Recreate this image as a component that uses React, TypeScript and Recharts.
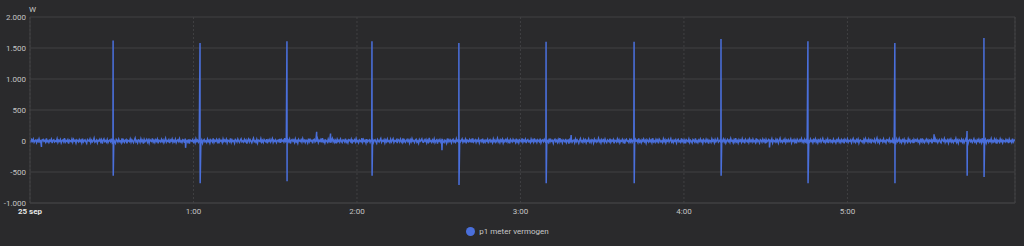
import React from 'react';
import { LineChart, Line, XAxis, YAxis, CartesianGrid, Legend, ReferenceLine } from 'recharts';

// base line noise, one reading every ~18s from 00:00 to 06:01
const noise = [
  8, -14, 22, -3, 30, -20, 5, 16, -26, 12, -8, 34, -12, 4, -30, 18, 26, -6, 10, -18,
  40, -10, 6, -24, 14, -2, 28, -34, 10, 20, -16, 2, -8, 36, -22, 12, -4, 24, -28, 6,
  16, -12, 44, -18, 8, -6, 20, -40, 14, 2, -10, 30, -20, 26, -2, 10, -32, 18, 6, -14,
  24, -8, 12, -28, 38, -16, 4, 18, -10, -36, 22, 8, -4, 32, -24, 14, -12, 6, 46, -20,
  -6, 16, -30, 10, 2, 28, -14, 20, -42, 12, 34, -8, 6, -18, 24, -26, 4, 14, -10, 38,
  -22, 8, 18, -4, -34, 26, 10, -16, 30, -8, 2, -28, 42, -12, 16, -20, 8, 22, -36, 12,
  4, -10, 32, -18, 20, -2, -26, 14, 48, -14, 6, -30, 18, 10, -22, 36, -6, 12, -40, 24,
  -12, 6, 28, -20, 14, -32, 22, 4, -8, 40, -16, 10, -24, 18, -4, 30, -38, 12, 2, -14,
  26, -10, 16, -28, 6, 44, -18, 8, -6, 22, -34, 14, -2, 32, -20, 10, -12, 28, -26, 4,
  18, -8, 36, -14, 2, -24, 20, 12, -30, 38, -10, 6, -18, 26, -42, 16, 8, -4, 22, -16,
  10, -28, 34, -6, 14, -20, 4, 50, -12, 18, -36, 8, 24, -14, 2, -22, 30, -8, 12, -32,
  20, 6, -16, 40, -24, 10, -4, 26, -18, 14, -38, 22, -2, 8, -26, 34, -10, 16, -6, 28,
  -30, 12, 4, -14, 42, -20, 18, -8, 6, -34, 24, 10, -16, 30, -4, -22, 14, 36, -12, 2,
  -18, 26, -6, 16, -40, 8, 32, -14, 20, -2, -28, 12, 46, -10, 4, -20, 24, -32, 14, 6,
  -8, 38, -16, 10, -24, 22, 2, -12, 30, -36, 16, -4, 26, -18, 8, 40, -22, 12, -6, 18,
  -26, 4, 14, -10, 34, -30, 20, -2, 12, -16, 44, -8, 6, -28, 18, -12, 28, -40, 10, 24,
  -4, 16, -22, 32, -14, 8, -34, 26, 2, -10, 20, -18, 38, -6, 12, -24, 14, 6, -30, 36,
  -12, 22, -2, 10, -38, 18, 28, -16, 4, -8, 34, -26, 12, -4, 24, -20, 46, -14, 8, -32,
  14, 2, -18, 30, -10, 20, -28, 6, 40, -12, 16, -22, 8, -36, 26, -6, 12, -16, 32, -2,
  -24, 18, 10, -14, 36, -20, 4, -30, 22, 14, -8, 28, -40, 12, -4, 20, -16, 38, -10, 6,
  -28, 16, 2, -12, 44, -18, 24, -6, 10, -32, 30, -14, 6, 18, -22, 12, -2, 34, -26, 8,
  20, -10, -36, 26, 4, -16, 14, 40, -20, 8, -4, 22, -30, 16, -12, 32, -8, 2, -24, 28,
  -14, 10, 36, -22, 6, -2, 18, -34, 24, 12, -16, 30, -6, -28, 42, -10, 14, -20, 4, 26,
  -8, 16, -32, 20, -12, 38, -4, 8, -24, 14, 28, -18, 2, -36, 22, -6, 12, 34, -14, -20,
  18, -2, 26, -30, 10, -16, 48, -8, 4, -22, 16, -12, 32, -26, 6, 20, -40, 14, -4, 24,
  -18, 8, 30, -10, -24, 14, 2, -34, 40, -12, 20, -6, 16, -28, 10, 26, -16, 4, -20, 36,
  -2, 12, -30, 22, -14, 6, 34, -20, 10, -8, 28, -38, 16, 2, -12, 24, -6, 18, -26, 42,
  -16, 4, 20, -24, 12, -4, 30, -32, 8, 16, -10, 38, -18, 6, -22, 14, -2, 26, -36, 10,
  22, -12, 6, -28, 34, -8, 16, -20, 2, 44, -14, 10, -26, 18, -4, 28, -30, 12, -10, 20,
  -6, 32, -18, 8, -38, 24, 4, -14, 26, -2, 12, -22, 36, -16, 10, -30, 18, 6, -8, 40,
  -20, 14, -4, 28, -34, 10, 22, -12, 2, -26, 30, -8, 16, -18, 42, -6, 12, -24, 20, 4,
  -14, 36, -28, 8, 18, -10, 26, -2, -32, 14, 6, -20, 38, -12, 22, -4, 10, -36, 16, 30,
  -8, 12, -22, 24, -16, 46, -6, 10, -30, 18, 2, -12, 34, -24, 8, 16, -40, 20, -4, 28,
  -18, 6, 14, -26, 32, -10, 20, -2, -34, 12, 40, -14, 4, -22, 26, -8, 18, -28, 10, -2,
  36, -16, 8, -24, 20, 12, -32, 28, -6, 14, -18, 2, 44, -12, 10, -30, 22, -4, 16, -20,
  30, -8, -26, 18, 4, -14, 38, -22, 10, -2, 24, -36, 12, 6, -16, 32, -10, 20, -28, 8,
  -4, 26, -18, 12, -40, 16, 30, -6, 2, -24, 20, -12, 36, -20, 8, 14, -30, 24, -2, 10,
  -22, 40, -14, 6, -28, 18, -4, 32, -10, 12, -34, 22, 2, -16, 28, -8, 14, -26, 44, -12,
  4, -20, 24, -6, 16, -38, 30, 10, -14, 2, -24, 34, -8, 20, -30, 12, -2, 26, -18, 8,
  38, -16, 6, -26, 14, -4, 22, -32, 10, 28, -12, 2, -20, 40, -8, 16, -24, 12, -36, 20,
  6, -10, 32, -22, 14, -2, -30, 24, 8, -14, 42, -18, 4, -26, 16, -6, 30, -12, 10, -34,
  22, 2, -16, 28, -8, 18, -40, 12, 6, -20, 34, -4, 14, -28, 24, -12, 8, 36, -18, -2,
  16, -24, 10, -6, 30, -14, 20, -32, 4, 26, -10, 12, -22, 38, -2, 8, -28, 18, -16, 44,
  -12, 6, -30, 22, -4, 14, -20, 34, -8, 10, -36, 26, 2, -14, 18, -24, 30, -6, 12, -18,
  28, -10, 4, -26, 40, -12, 16, -2, -32, 20, 8, -18, 30, -6, 14, -38, 24, -14, 6, 22,
  -20, 10, -4, 36, -28, 12, 2, -16, 26, -10, 18, -34, 8, 44, -12, 4, -22, 16, -6, 30,
  -26, 14, -8, 20, -14, 2, 32, -30, 12, -4, 24, -20, 10, -36, 28, 6, -12, 18, -2, 38,
  -16, 8, -24, 26, -10, 16, -40, 20, 4, -14, 30, -6, 12, -28, 22, -2, 36, -18, 10, -32,
  14, -6, 24, -20, 8, 42, -12, 2, -26, 18, -8, 30, -34, 12, 20, -16, 4, -22, 28, -10,
  6, -30, 16, -2, 34, -18, 10, -24, 22, -8, 14, -38, 26, 4, -12, 32, -20, 8, -4, 18,
  -28, 12, 40, -14, 6, -22, 20, -6, 30, -32, 10, 16, -10, 2, -26, 24, -16, 36, -4, 12,
  -20, 28, -8, 14, -36, 18, 4, -12, 26, -24, 8, 46, -16, 10, -30, 20, -2, 12, -18, 32,
  -10, 6, -28, 22, 14, -6, 34, -20, 2, -14, 24, -38, 16, 8, -24, 30, -12, 4, 40, -16,
  10, -26, 18, -4, 28, -30, 12, 6, -18, 36, -8, 20, -22, 2, 14, -34, 24, -10, 16, -2,
  26, -14, 8, -32, 20, -6, 42, -16, 10, -24, 4, 30, -12, 18, -28, 12, -4, 22, -36, 14,
  2, -18, 34, -10, 16, -26, 6, 24, -14, -30, 28, 10, -4, 38, -22, 12, -8, 18, -32, 20,
  -6, 30, -16, 8, -24, 14, -2, 40, -20, 12, -34, 22, 6, -10, 26, -18, 16, -28, 4, 32,
  -12, 20, -36, 10, 24, -8, 14, -22, 2, 34, -14, 6, -30, 18, -4, 28, -16, 12, -26, 44,
  -10, 16, -2, 26, -32, 8, 20, -18, 12, -6, 36, -24, 4, -14, 30, -12, 22, -40, 14, 6,
  -20, 32, -8, 18, -28, 10, 2, -16, 24, -4, 14, -34, 28, -10, 6, -22, 38, -14, 12, 20,
];

// periodic spikes (minutes after midnight), peak and dip in W
const spikeTimes = [30.5, 62.4, 94.3, 125.5, 157.4, 189.4, 221.7, 253.6, 285.5, 317.4, 343.9, 350.1];
const spikeHigh = [1620, 1580, 1610, 1610, 1580, 1600, 1600, 1645, 1610, 1580, 160, 1660];
const spikeLow = [-560, -680, -650, -560, -710, -680, -680, -560, -680, -680, -560, -580];

// smaller isolated blips
const bumpTimes = [4.2, 57.1, 105.2, 110.3, 151.2, 198.6, 271.4, 331.8];
const bumpValues = [-95, -110, 150, 120, -150, 95, -105, 110];

const endMinute = 361.5;
const yTicks = [-1000, -500, 0, 500, 1000, 1500, 2000];
const xTicks = [0, 60, 120, 180, 240, 300];
const xTickLabels = ['25 sep', '1:00', '2:00', '3:00', '4:00', '5:00'];
const seriesName = 'p1 meter vermogen';

const step = endMinute / (noise.length - 1);
const data = [
  ...noise.map((v, i) => ({ t: i * step, w: v })),
  ...spikeTimes.flatMap((t, i) => [
    { t, w: spikeHigh[i] },
    { t: t + 0.05, w: spikeLow[i] },
  ]),
  ...bumpTimes.map((t, i) => ({ t, w: bumpValues[i] })),
].sort((a, b) => a.t - b.t);

const FONT = 'Roboto, sans-serif';
const GRID = '#404042';
const BLUE = '#4a6fdb';

const fmtW = (v: number) => {
  const s = Math.abs(v).toString().replace(/\B(?=(\d{3})+(?!\d))/g, '.');
  return v < 0 ? '-' + s : s;
};

const XTick = (props: any) => {
  const { x, y, payload } = props;
  const idx = xTicks.indexOf(payload.value);
  const first = idx === 0;
  return (
    <text x={x} y={y} dy="0.71em" textAnchor="middle" fontSize={8} fontFamily={FONT}
      fontWeight={first ? 700 : 400} fill={first ? '#e6e6e6' : '#c4c4c4'}>
      {xTickLabels[idx]}
    </text>
  );
};

const LegendContent = () => (
  <div style={{ display: 'flex', justifyContent: 'center', alignItems: 'center', height: 16 }}>
    <span style={{ width: 9, height: 9, borderRadius: '50%', background: BLUE, display: 'inline-block', marginRight: 4 }} />
    <span style={{ fontSize: 8, fontFamily: FONT, color: '#c8c8c8' }}>{seriesName}</span>
  </div>
);

export default function App() {
  return (
    <div style={{ position: 'relative', width: 1024, height: 246, background: '#2a2a2c' }}>
      <style>{'body{margin:0}'}</style>
      <div style={{ position: 'absolute', left: 29, top: 5, fontSize: 8, fontFamily: FONT, color: '#c8c8c8' }}>W</div>
      <LineChart width={1024} height={246} data={data} margin={{ top: 17, right: 9, left: 0, bottom: 0 }}>
        <CartesianGrid horizontal vertical={false} stroke={GRID} />
        <CartesianGrid horizontal={false} vertical stroke={GRID} strokeDasharray="2 2" />
        <XAxis dataKey="t" type="number" domain={[0, endMinute]} ticks={xTicks} height={20}
          tick={<XTick />} tickLine={false} tickSize={0} tickMargin={5}
          axisLine={{ stroke: GRID }} allowDataOverflow />
        <YAxis type="number" domain={[-1000, 2000]} ticks={yTicks} width={30}
          tickFormatter={fmtW} tickLine={false} tickSize={0} tickMargin={4}
          tick={{ fontSize: 8, fontFamily: FONT, fill: '#c4c4c4' }}
          axisLine={{ stroke: GRID }} />
        <ReferenceLine x={endMinute} stroke={GRID} />
        <Legend verticalAlign="bottom" height={23} content={<LegendContent />} />
        <Line type="linear" dataKey="w" name={seriesName} stroke={BLUE} strokeWidth={1.5}
          dot={false} isAnimationActive={false} />
      </LineChart>
    </div>
  );
}
